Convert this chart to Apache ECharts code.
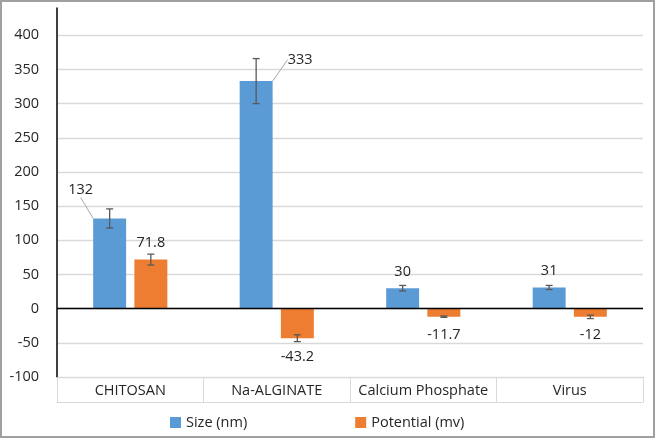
<!DOCTYPE html>
<html>
<head>
<meta charset="utf-8">
<script src="https://cdn.jsdelivr.net/npm/echarts@6/dist/echarts.min.js"></script>
<style>
html,body{margin:0;padding:0;background:#fff;}
#wrap{position:relative;width:655px;height:438px;}
#chart{width:655px;height:438px;}
#frame{position:absolute;left:0;top:0;width:655px;height:438px;box-sizing:border-box;border:2px solid #a0a0a0;pointer-events:none;}
</style>
</head>
<body>
<div id="wrap"><div id="chart"></div><div id="frame"></div></div>
<script>
var categories = ['CHITOSAN', 'Na-ALGINATE', 'Calcium Phosphate', 'Virus'];
var sizeValues = [132, 333, 30, 31];
var sizeErrors = [14, 33, 4, 3];
var potentialValues = [71.8, -43.2, -11.7, -12];
var potentialErrors = [8, 5, 1, 2.5];
var yTicks = [-100, -50, 0, 50, 100, 150, 200, 250, 300, 350, 400];
var seriesNames = ['Size (nm)', 'Potential (mv)'];

var FONT = 'Open Sans';
var TEXT = '#262626';
var BLUE = '#5B9BD5';
var ORANGE = '#ED7D31';
var GRIDC = '#d9d9d9';
var FS = 14.5;

function errData(vals, errs) {
  return vals.map(function (v, i) { return [i, v - errs[i], v + errs[i]]; });
}

function errRender(side) {
  return function (params, api) {
    var band = api.size([1, 0])[0];
    var off = side * band * 0.1406;
    var lo = api.coord([api.value(0), api.value(1)]);
    var hi = api.coord([api.value(0), api.value(2)]);
    var x = lo[0] + off;
    var cap = 3.5;
    var style = { stroke: '#595959', lineWidth: 1.3, fill: null };
    return {
      type: 'group',
      children: [
        { type: 'line', shape: { x1: x, y1: lo[1], x2: x, y2: hi[1] }, style: style },
        { type: 'line', shape: { x1: x - cap, y1: lo[1], x2: x + cap, y2: lo[1] }, style: style },
        { type: 'line', shape: { x1: x - cap, y1: hi[1], x2: x + cap, y2: hi[1] }, style: style }
      ]
    };
  };
}

var labelBase = { show: true, position: 'top', distance: 9, color: TEXT, fontFamily: FONT, fontSize: FS };

var sizeData = sizeValues.map(function (v, i) {
  var item = { value: v };
  if (i === 0 || i === 1) item.labelLine = { show: true, lineStyle: { color: '#a6a6a6', width: 1 } };
  return item;
});
var potData = potentialValues.map(function (v) {
  var item = { value: v };
  if (v < 0) item.label = { position: 'bottom', distance: 11 };
  return item;
});

var chart = echarts.init(document.getElementById('chart'));
chart.setOption({
  animation: false,
  textStyle: { fontFamily: FONT },
  grid: { left: 57, right: 12, top: 8, bottom: 61, containLabel: false },
  legend: {
    data: seriesNames,
    left: 165,
    top: 410,
    icon: 'rect',
    itemWidth: 11,
    itemHeight: 11,
    itemGap: 108,
    itemTextGap: 8,
    textStyle: { color: TEXT, fontFamily: FONT, fontSize: FS }
  },
  xAxis: [
    {
      type: 'category',
      data: categories,
      position: 'bottom',
      axisLine: { onZero: false, show: true, lineStyle: { color: GRIDC, width: 1 } },
      axisTick: { show: true, interval: 0, alignWithLabel: false, length: 25, lineStyle: { color: GRIDC, width: 1 } },
      axisLabel: { interval: 0, color: TEXT, fontFamily: FONT, fontSize: FS, margin: 6 },
      splitLine: { show: false }
    },
    {
      type: 'category',
      data: categories,
      position: 'bottom',
      offset: 25,
      axisLine: { onZero: false, show: true, lineStyle: { color: GRIDC, width: 1 } },
      axisTick: { show: false },
      axisLabel: { show: false },
      splitLine: { show: false }
    }
  ],
  yAxis: {
    type: 'value',
    min: -100,
    max: 440,
    interval: 50,
    axisLine: { show: true, lineStyle: { color: '#000', width: 1.5 } },
    axisTick: { show: false, customValues: yTicks },
    axisLabel: { color: TEXT, fontFamily: FONT, fontSize: FS, margin: 18, customValues: yTicks },
    splitLine: { show: true, lineStyle: { color: GRIDC, width: 1.3 } }
  },
  series: [
    {
      name: seriesNames[0],
      type: 'bar',
      data: sizeData,
      barWidth: '22.5%',
      barGap: '25%',
      itemStyle: { color: BLUE },
      label: labelBase,
      labelLayout: function (p) {
        if (p.dataIndex === 0) return { dx: -29, dy: -12 };
        if (p.dataIndex === 1) return { dx: 44, dy: -5 };
        return {};
      },
      markLine: {
        silent: true,
        symbol: 'none',
        label: { show: false },
        lineStyle: { color: '#000', width: 1.3, type: 'solid' },
        data: [{ yAxis: 0 }]
      },
      z: 2
    },
    {
      name: seriesNames[1],
      type: 'bar',
      data: potData,
      barWidth: '22.5%',
      barGap: '25%',
      itemStyle: { color: ORANGE },
      label: labelBase,
      z: 2
    },
    {
      name: 'sizeErr',
      type: 'custom',
      renderItem: errRender(-1),
      data: errData(sizeValues, sizeErrors),
      encode: { x: 0, y: [1, 2] },
      z: 5,
      silent: true
    },
    {
      name: 'potErr',
      type: 'custom',
      renderItem: errRender(1),
      data: errData(potentialValues, potentialErrors),
      encode: { x: 0, y: [1, 2] },
      z: 5,
      silent: true
    }
  ]
});
</script>
</body>
</html>
